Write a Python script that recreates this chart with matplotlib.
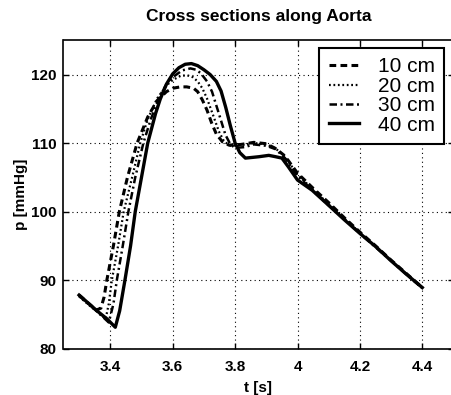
import numpy as np
import matplotlib
matplotlib.use("Agg")
import matplotlib.pyplot as plt

plt.rcParams['font.family'] = ['Liberation Sans', 'DejaVu Sans']

# 10 cm (dashed)
t10 = [3.30, 3.33, 3.355, 3.37, 3.38, 3.389, 3.41, 3.429, 3.455, 3.486, 3.52, 3.55,
       3.58, 3.60, 3.625, 3.645, 3.667, 3.68, 3.695, 3.71, 3.725, 3.74, 3.759, 3.78,
       3.82, 3.86, 3.90, 3.93, 3.96, 4.00, 4.05, 4.10, 4.15, 4.20, 4.25, 4.30, 4.35, 4.40]
p10 = [87.8, 86.6, 85.6, 85.9, 87.5, 90.0, 95.0, 100.0, 105.0, 110.0, 113.8, 116.2,
       117.5, 118.0, 118.2, 118.2, 118.0, 117.5, 116.3, 114.8, 112.9, 111.3, 110.2, 109.7,
       109.8, 110.1, 109.9, 109.2, 108.1, 105.6, 103.4, 101.3, 99.1, 97.0, 95.0, 92.9, 90.9, 88.9]

# 20 cm (dotted)
t20 = [3.30, 3.33, 3.36, 3.385, 3.395, 3.405, 3.425, 3.443, 3.47, 3.496, 3.52, 3.55,
       3.58, 3.60, 3.625, 3.646, 3.665, 3.68, 3.695, 3.71, 3.73, 3.748, 3.765, 3.785,
       3.82, 3.86, 3.90, 3.93, 3.96, 4.00, 4.05, 4.10, 4.15, 4.20, 4.25, 4.30, 4.35, 4.40]
p20 = [87.6, 86.4, 85.3, 84.3, 86.5, 90.0, 95.0, 100.0, 105.0, 110.0, 113.5, 116.5,
       118.4, 119.2, 119.8, 119.9, 119.6, 119.0, 118.0, 116.5, 114.0, 111.7, 110.2, 109.6,
       109.7, 110.0, 109.8, 109.2, 108.0, 105.4, 103.2, 101.1, 99.0, 96.9, 94.9, 92.8, 90.8, 88.8]

# 30 cm (dash-dot)
t30 = [3.30, 3.33, 3.36, 3.395, 3.41, 3.421, 3.44, 3.458, 3.48, 3.506, 3.53, 3.56,
       3.58, 3.60, 3.63, 3.657, 3.675, 3.69, 3.71, 3.726, 3.75, 3.769, 3.785, 3.80,
       3.83, 3.86, 3.90, 3.93, 3.96, 4.00, 4.05, 4.10, 4.15, 4.20, 4.25, 4.30, 4.35, 4.40]
p30 = [87.7, 86.5, 85.3, 83.8, 86.5, 90.0, 95.0, 100.0, 105.0, 110.0, 113.5, 117.0,
       118.6, 119.6, 120.6, 120.9, 120.7, 120.2, 119.0, 117.5, 114.0, 111.2, 109.8, 109.3,
       109.4, 109.8, 109.6, 109.1, 107.8, 105.2, 103.0, 100.9, 98.9, 96.8, 94.8, 92.8, 90.8, 88.8]

# 40 cm (solid)
t40 = [3.30, 3.33, 3.36, 3.39, 3.416, 3.43, 3.447, 3.465, 3.48, 3.50, 3.52, 3.545,
       3.56, 3.58, 3.60, 3.62, 3.64, 3.66, 3.68, 3.70, 3.72, 3.74, 3.755, 3.77,
       3.785, 3.80, 3.815, 3.833, 3.855, 3.876, 3.908, 3.93, 3.95, 3.971, 4.00, 4.047,
       4.10, 4.15, 4.20, 4.25, 4.30, 4.35, 4.40]
p40 = [87.8, 86.6, 85.4, 84.3, 83.1, 85.5, 90.0, 95.0, 100.0, 105.0, 110.0, 114.3,
       116.4, 118.6, 120.1, 121.0, 121.5, 121.6, 121.3, 120.7, 120.0, 119.0, 117.6, 115.2,
       112.5, 110.0, 108.6, 107.8, 107.9, 108.0, 108.2, 108.0, 107.8, 106.5, 104.6, 103.1,
       100.9, 98.8, 96.8, 94.9, 92.8, 90.8, 88.9]

labels = ["10 cm", "20 cm", "30 cm", "40 cm"]

fig = plt.figure(figsize=(4.52, 3.95), dpi=100)
ax = fig.add_axes([63.5/452, 46.5/395, 390/452, 308.2/395])

ax.plot(t10, p10, color="k", lw=2.2, linestyle=(0, (2.2, 1.4)), label=labels[0])
ax.plot(t20, p20, color="k", lw=1.6, linestyle=(0, (0.8, 1.2)), label=labels[1])
ax.plot(t30, p30, color="k", lw=1.8, linestyle=(0, (3.0, 1.4, 0.8, 1.4)), label=labels[2])
ax.plot(t40, p40, color="k", lw=2.4, linestyle="-", label=labels[3])

ax.set_xlim(3.25, 4.5)
ax.set_ylim(80, 125)
ax.set_xticks([3.4, 3.6, 3.8, 4.0, 4.2, 4.4])
ax.set_xticklabels(["3.4", "3.6", "3.8", "4", "4.2", "4.4"])
ax.set_yticks([80, 90, 100, 110, 120])
ax.grid(True, color="k", linestyle=(0, (1, 3)), linewidth=0.8)
ax.tick_params(direction="in", top=True, right=True, length=4, width=1,
               labelsize=11)
ax.tick_params(axis="x", pad=8)
ax.tick_params(axis="y", pad=5)
for lab in ax.get_xticklabels() + ax.get_yticklabels():
    lab.set_fontweight("bold")
for s in ax.spines.values():
    s.set_linewidth(1.2)

ax.set_xlabel("t [s]", fontsize=11, fontweight="bold", labelpad=5)
ax.set_ylabel("p [mmHg]", fontsize=11, fontweight="bold", labelpad=2)
ax.set_title("Cross sections along Aorta", fontsize=12.5, fontweight="bold", pad=14)

leg = ax.legend(loc="upper right", bbox_to_anchor=(0.9756, 0.975), borderaxespad=0,
                fontsize=15, fancybox=False, framealpha=1, edgecolor="k",
                handlelength=1.45, handletextpad=0.9, labelspacing=0.02,
                borderpad=0.45)
leg.get_frame().set_linewidth(1.5)

plt.savefig("out.png", dpi=100)
